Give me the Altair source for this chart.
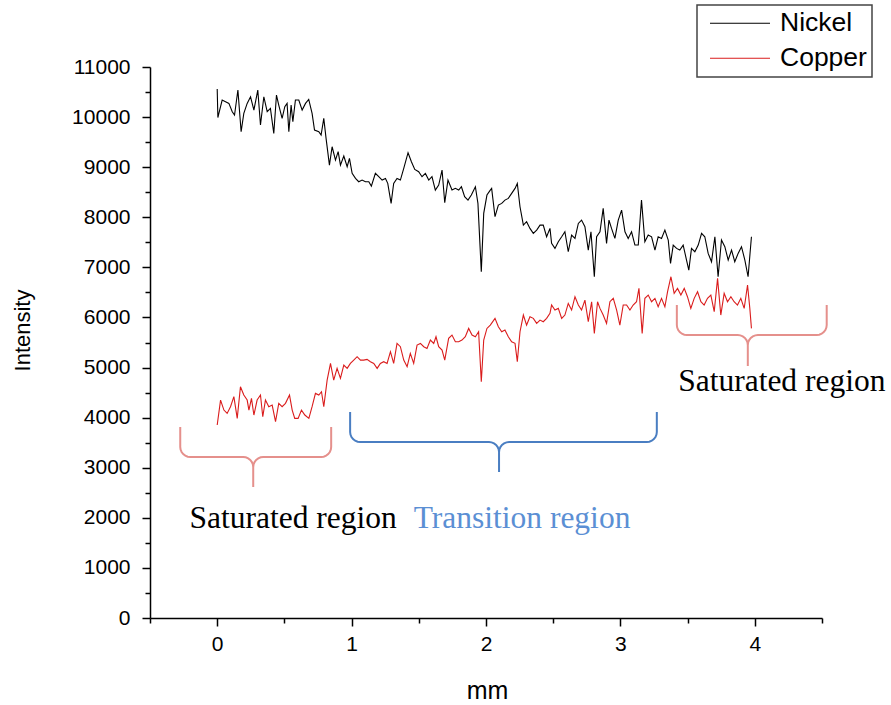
import math
import altair as alt
import pandas as pd

# ---------------- data ----------------
nickel_x = [0.000, 0.005, 0.012, 0.037, 0.062, 0.087, 0.112, 0.129, 0.154, 0.178, 0.198, 0.223, 0.248, 0.273,
            0.302, 0.322, 0.347, 0.372, 0.396, 0.421, 0.441, 0.458, 0.483, 0.503, 0.520, 0.533, 0.550, 0.563,
            0.582, 0.607, 0.632, 0.657, 0.681, 0.706, 0.724, 0.756, 0.773, 0.793, 0.810, 0.835, 0.855, 0.880,
            0.900, 0.917, 0.942, 0.967, 0.984, 1.004, 1.029, 1.053, 1.078, 1.103, 1.128, 1.147, 1.177, 1.202,
            1.227, 1.252, 1.269, 1.294, 1.313, 1.338, 1.363, 1.388, 1.420, 1.445, 1.470, 1.499, 1.524, 1.549,
            1.574, 1.598, 1.623, 1.648, 1.673, 1.693, 1.717, 1.747, 1.772, 1.797, 1.817, 1.841, 1.866, 1.891,
            1.921, 1.940, 1.965, 1.983, 2.007, 2.032, 2.042, 2.067, 2.092, 2.117, 2.141, 2.166, 2.191, 2.216,
            2.233, 2.253, 2.278, 2.302, 2.327, 2.352, 2.377, 2.402, 2.426, 2.451, 2.476, 2.488, 2.513, 2.538,
            2.563, 2.587, 2.612, 2.637, 2.662, 2.687, 2.711, 2.736, 2.761, 2.781, 2.806, 2.823, 2.848, 2.872,
            2.897, 2.915, 2.934, 2.959, 2.984, 3.009, 3.034, 3.058, 3.083, 3.108, 3.133, 3.157, 3.182, 3.207,
            3.232, 3.257, 3.281, 3.306, 3.331, 3.356, 3.373, 3.393, 3.418, 3.442, 3.467, 3.492, 3.509, 3.529,
            3.554, 3.579, 3.604, 3.628, 3.653, 3.678, 3.703, 3.727, 3.752, 3.777, 3.802, 3.827, 3.851, 3.876,
            3.901, 3.926, 3.950, 3.975]
nickel_y = [10560, 9990, 10070, 10340, 10307, 10273, 10107, 10040, 10540, 9708, 10074, 10273, 10406, 10140,
            10540, 9841, 10406, 10107, 10174, 9675, 10440, 10240, 9974, 10207, 10273, 9708, 10240, 9907,
            10340, 10340, 10140, 10273, 10353, 10074, 9741, 9708, 9641, 9974, 9575, 9042, 9408, 9142,
            9309, 9042, 9222, 9009, 9175, 8876, 8776, 8710, 8743, 8710, 8710, 8623, 8876, 8810,
            8743, 8776, 8677, 8277, 8677, 8776, 8743, 8976, 9289, 9109, 8956, 8910, 8810, 8876,
            8743, 8810, 8543, 8643, 8943, 8291, 8743, 8543, 8577, 8543, 8610, 8410, 8344, 8444,
            8610, 8277, 6914, 8078, 8444, 8543, 8576, 8011, 8243, 8277, 8343, 8377, 8476, 8576,
            8676, 8210, 7844, 7911, 7778, 7678, 7744, 7844, 7844, 7611, 7778, 7478, 7379, 7512,
            7611, 7711, 7312, 7645, 7578, 7877, 7944, 7811, 7345, 7711, 6813, 7611, 7711, 8177,
            7478, 7944, 7778, 7578, 7944, 8144, 7711, 7578, 7711, 7445, 7445, 8343, 7512, 7645,
            7611, 7345, 7611, 7578, 7744, 7545, 7079, 7445, 7379, 7345, 7445, 7146, 6946, 7379,
            7312, 7445, 7678, 7611, 7279, 7112, 7611, 6813, 7545, 7412, 7146, 7345, 7112, 7279,
            7412, 7146, 6813, 7611]

copper_x = [0.000, 0.025, 0.050, 0.074, 0.099, 0.124, 0.149, 0.173, 0.198, 0.223, 0.236, 0.255, 0.273, 0.297,
            0.322, 0.339, 0.359, 0.384, 0.409, 0.434, 0.458, 0.483, 0.508, 0.538, 0.558, 0.577, 0.602, 0.627,
            0.652, 0.682, 0.706, 0.731, 0.756, 0.776, 0.793, 0.818, 0.843, 0.867, 0.892, 0.917, 0.942, 0.967,
            0.991, 1.016, 1.041, 1.066, 1.090, 1.115, 1.140, 1.165, 1.190, 1.214, 1.239, 1.264, 1.289, 1.313,
            1.338, 1.363, 1.388, 1.413, 1.437, 1.462, 1.487, 1.512, 1.537, 1.561, 1.586, 1.611, 1.628, 1.648,
            1.673, 1.693, 1.722, 1.747, 1.772, 1.797, 1.821, 1.846, 1.871, 1.896, 1.921, 1.945, 1.965, 1.983,
            2.007, 2.032, 2.067, 2.092, 2.117, 2.141, 2.166, 2.191, 2.216, 2.233, 2.253, 2.278, 2.302, 2.327,
            2.352, 2.377, 2.402, 2.426, 2.451, 2.476, 2.488, 2.513, 2.538, 2.563, 2.587, 2.612, 2.637, 2.662,
            2.687, 2.711, 2.736, 2.761, 2.786, 2.806, 2.830, 2.848, 2.872, 2.897, 2.922, 2.947, 2.972, 2.996,
            3.021, 3.046, 3.071, 3.095, 3.120, 3.138, 3.162, 3.182, 3.207, 3.232, 3.257, 3.281, 3.306, 3.331,
            3.351, 3.376, 3.400, 3.425, 3.450, 3.475, 3.499, 3.524, 3.549, 3.574, 3.599, 3.623, 3.648, 3.673,
            3.698, 3.723, 3.747, 3.772, 3.797, 3.822, 3.846, 3.871, 3.896, 3.921, 3.946, 3.963, 3.975]
copper_y = [3852, 4351, 4151, 4085, 4218, 4418, 3985, 4617, 4451, 4351, 4151, 4384, 4052, 4351,
            4451, 4018, 4351, 4218, 4251, 3919, 4285, 4218, 4285, 4451, 4151, 3985, 3985, 4151,
            4052, 3985, 4218, 4484, 4451, 4517, 4218, 4750, 5083, 4750, 4983, 4784, 5050, 4983,
            5083, 5149, 5216, 5149, 5149, 5163, 5116, 5083, 4983, 5083, 5116, 5083, 5316, 5083,
            5482, 5416, 5149, 5016, 5282, 5083, 5449, 5482, 5416, 5382, 5549, 5482, 5615, 5416,
            5349, 5149, 5582, 5648, 5515, 5515, 5549, 5615, 5781, 5648, 5615, 5715, 4717, 5549,
            5781, 5848, 5981, 5815, 5715, 5749, 5616, 5516, 5483, 5117, 5715, 6048, 5848, 6015,
            5982, 5882, 5948, 5915, 5982, 6081, 6248, 6148, 6181, 5982, 6048, 6281, 6148, 6414,
            6248, 6148, 6347, 5915, 6314, 5682, 6314, 6181, 6048, 5882, 6314, 6381, 6148, 5848,
            6248, 6248, 6148, 6248, 6314, 6580, 5682, 6381, 6447, 6314, 6381, 6214, 6381, 6214,
            6514, 6813, 6481, 6580, 6447, 6580, 6414, 6181, 6381, 6514, 6314, 6248, 6381, 6447,
            6115, 6780, 6048, 6481, 6314, 6414, 6314, 6248, 6381, 6181, 6647, 6181, 5782]

series_names = ["Nickel", "Copper"]
series_colors = ["#000000", "#DA1C1C"]

x_major = [0, 1, 2, 3, 4]
x_minor = [-0.5, 0.5, 1.5, 2.5, 3.5, 4.5]
y_major = [0, 1000, 2000, 3000, 4000, 5000, 6000, 7000, 8000, 9000, 10000, 11000]
y_minor = [500, 1500, 2500, 3500, 4500, 5500, 6500, 7500, 8500, 9500, 10500]

# braces: left x, right x, centre x, top y, middle y, tip y, colour
brace_x0 = [-0.275, 0.989, 3.420]
brace_x1 = [0.848, 3.271, 4.535]
brace_xc = [0.268, 2.097, 3.948]
brace_ytop = [3812, 4112, 6248]
brace_ymid = [3214, 3513, 5649]
brace_ytip = [2615, 2914, 5030]
brace_colors = ["#E5908C", "#4A7EC2", "#E5908C"]

note_text = ["Saturated region", "Transition region", "Saturated region"]
note_x = [0.565, 2.268, 4.201]
note_y = [1976, 1976, 4711]
note_colors = ["#000000", "#5B8FD4", "#000000"]

# ---------------- tables ----------------
lines_df = pd.concat([
    pd.DataFrame({"series": "Nickel", "mm": nickel_x, "Intensity": nickel_y}),
    pd.DataFrame({"series": "Copper", "mm": copper_x, "Intensity": copper_y}),
], ignore_index=True)


def brace_path(x0, x1, xc, ytop, ymid, ytip, rx=0.075, ry=200, n=6):
    pts = [(x0, ytop)]
    for k in range(n + 1):
        a = math.pi + (math.pi / 2) * k / n
        pts.append((x0 + rx + rx * math.cos(a), ymid + ry + ry * math.sin(a)))
    for k in range(n + 1):
        a = math.pi / 2 - (math.pi / 2) * k / n
        pts.append((xc - rx + rx * math.cos(a), ymid - ry + ry * math.sin(a)))
    pts.append((xc, ytip))
    for k in range(n + 1):
        a = math.pi - (math.pi / 2) * k / n
        pts.append((xc + rx + rx * math.cos(a), ymid - ry + ry * math.sin(a)))
    for k in range(n + 1):
        a = 1.5 * math.pi + (math.pi / 2) * k / n
        pts.append((x1 - rx + rx * math.cos(a), ymid + ry + ry * math.sin(a)))
    pts.append((x1, ytop))
    return pts


rows = []
for i in range(len(brace_x0)):
    pts = brace_path(brace_x0[i], brace_x1[i], brace_xc[i], brace_ytop[i], brace_ymid[i], brace_ytip[i])
    for j, (px, py) in enumerate(pts):
        rows.append({"brace": i, "order": j, "mm": px, "Intensity": py, "color": brace_colors[i]})
braces_df = pd.DataFrame(rows)

notes_df = pd.DataFrame({"text": note_text, "mm": note_x, "Intensity": note_y, "color": note_colors})

# ---------------- scales & axes ----------------
xscale = alt.Scale(domain=[-0.5, 4.5], nice=False, zero=False)
yscale = alt.Scale(domain=[0, 11000], nice=False, zero=False)

FONT = "Liberation Sans"

x_major_axis = alt.Axis(orient="bottom", values=x_major, format="d", grid=False,
                        tickSize=8, tickWidth=1.5, tickColor="black",
                        domainColor="black", domainWidth=1.5,
                        labelFont=FONT, labelFontSize=21, labelColor="black", labelPadding=7,
                        labelFlush=False,
                        title="mm", titleFont=FONT, titleFontSize=25, titleFontWeight="normal",
                        titleColor="black", titleX=337, titleY=72, titleBaseline="middle",
                        titleAlign="center")
x_minor_axis = alt.Axis(orient="bottom", values=x_minor, labels=False, domain=False, grid=False,
                        tickSize=5, tickWidth=1.5, tickColor="black", title=None)
y_major_axis = alt.Axis(orient="left", values=y_major, format="d", grid=False,
                        tickSize=8, tickWidth=1.5, tickColor="black",
                        domainColor="black", domainWidth=1.5,
                        labelFont=FONT, labelFontSize=21, labelColor="black", labelPadding=12,
                        labelFlush=False,
                        title="Intensity", titleFont=FONT, titleFontSize=22, titleFontWeight="normal",
                        titleColor="black", titleX=-128, titleY=263, titleAngle=270,
                        titleBaseline="middle", titleAlign="center")
y_minor_axis = alt.Axis(orient="left", values=y_minor, labels=False, domain=False, grid=False,
                        tickSize=5, tickWidth=1.5, tickColor="black", title=None)

minor = alt.Chart(lines_df).mark_line(opacity=0).encode(
    x=alt.X("mm:Q", scale=xscale, axis=x_minor_axis),
    y=alt.Y("Intensity:Q", scale=yscale, axis=y_minor_axis),
    detail="series:N",
)

lines = alt.Chart(lines_df).mark_line(strokeWidth=1.1).encode(
    x=alt.X("mm:Q", scale=xscale, axis=x_major_axis),
    y=alt.Y("Intensity:Q", scale=yscale, axis=y_major_axis),
    color=alt.Color("series:N",
                    scale=alt.Scale(domain=series_names, range=series_colors),
                    sort=series_names,
                    legend=alt.Legend(orient="none", legendX=547, legendY=-62, title=None,
                                      symbolType="M-3,0H3", symbolSize=400, symbolStrokeWidth=1,
                                      symbolOffset=24.75, labelOffset=26.75,
                                      labelFont=FONT, labelFontSize=26.5, labelColor="black",
                                      strokeColor="#444444", fillColor="white",
                                      padding=5, rowPadding=8, cornerRadius=0)),
)

braces = alt.Chart(braces_df).mark_line(strokeWidth=2).encode(
    x=alt.X("mm:Q", scale=xscale, axis=None),
    y=alt.Y("Intensity:Q", scale=yscale, axis=None),
    detail="brace:N",
    order="order:Q",
    color=alt.Color("color:N", scale=None),
)

notes = alt.Chart(notes_df).mark_text(font="Liberation Serif", fontSize=31.5, align="center",
                                      baseline="middle").encode(
    x=alt.X("mm:Q", scale=xscale, axis=None),
    y=alt.Y("Intensity:Q", scale=yscale, axis=None),
    text="text:N",
    color=alt.Color("color:N", scale=None),
)

chart = alt.layer(minor, lines, braces, notes).resolve_axis(
    x="independent", y="independent"
).properties(
    width=672, height=551,
    autosize=alt.AutoSizeParams(type="none"),
    padding={"left": 150, "top": 67, "right": 69, "bottom": 87},
    background="white",
).configure_view(stroke=None).configure_legend(strokeWidth=1.5)

chart.save("out.html", embed_options={"renderer": "svg", "actions": False})
